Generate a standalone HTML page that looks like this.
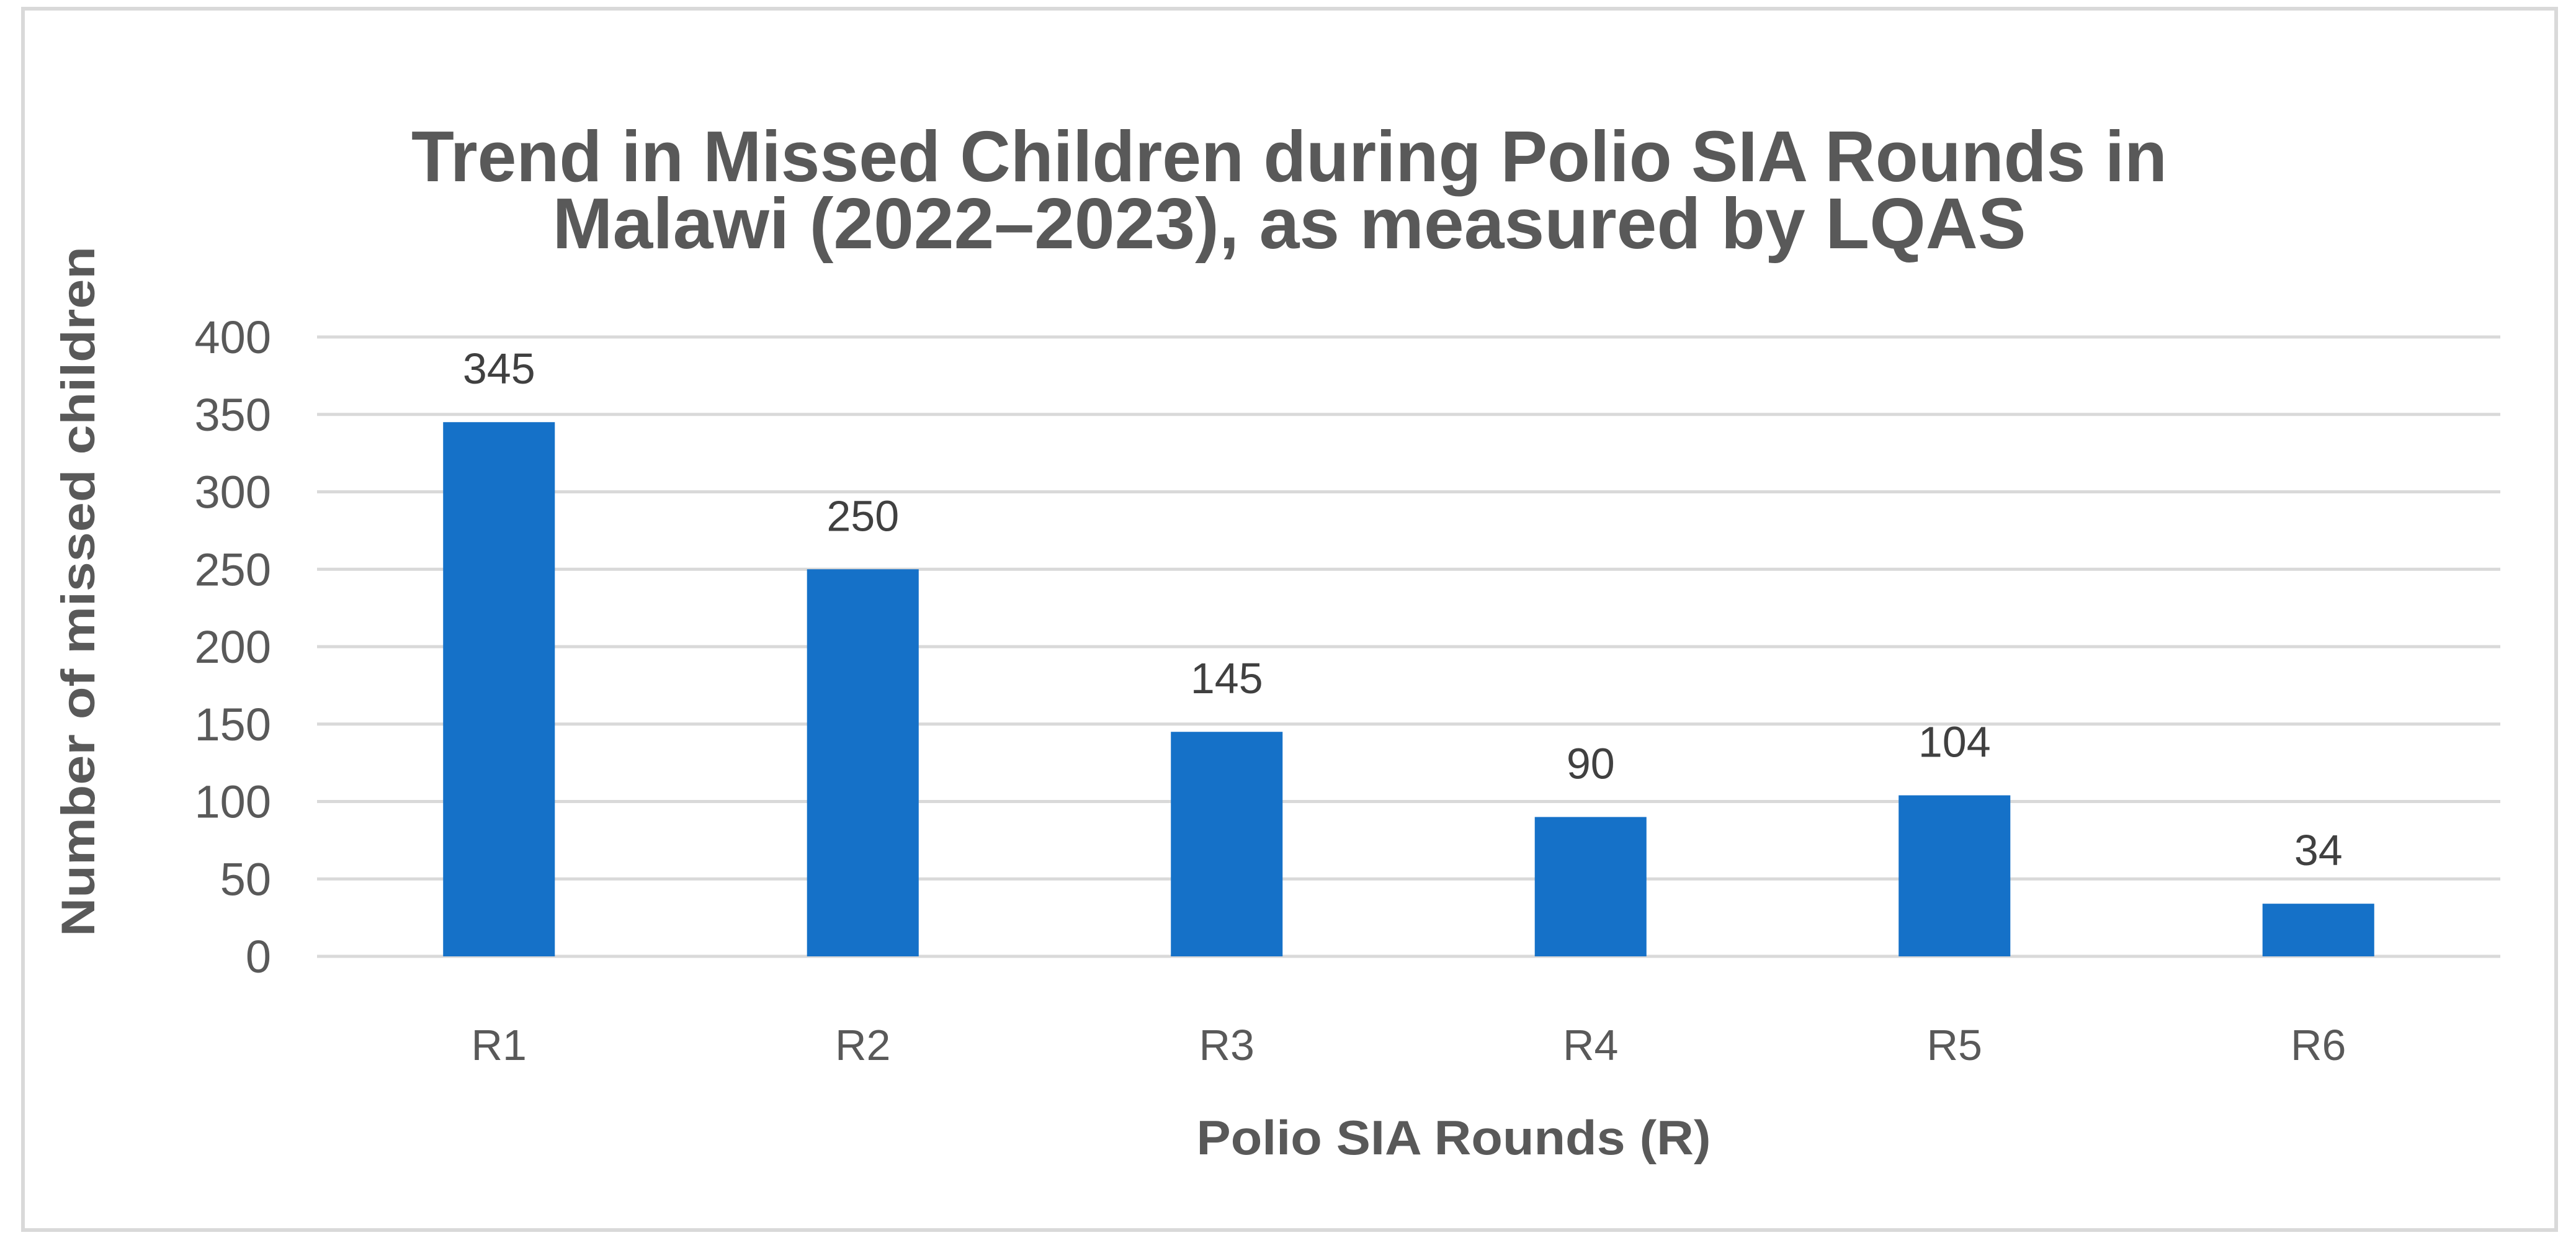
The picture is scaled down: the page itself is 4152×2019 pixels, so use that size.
<!DOCTYPE html>
<html><head><meta charset="utf-8"><style>
html,body{margin:0;padding:0;background:#fff;}
svg{display:block;font-family:"Liberation Sans",sans-serif;}
</style></head><body>
<svg id="chart" width="4152" height="2019" viewBox="0 0 4152 2019">
<rect x="37" y="14" width="4083" height="1968" fill="#fff" stroke="#d9d9d9" stroke-width="6"/>
<g fill="#595959" font-weight="bold" font-size="116" text-anchor="middle">
<text x="2078" y="292" textLength="2830" lengthAdjust="spacingAndGlyphs">Trend in Missed Children during Polio SIA Rounds in</text>
<text x="2078" y="400" textLength="2375" lengthAdjust="spacingAndGlyphs">Malawi (2022–2023), as measured by LQAS</text>
</g>
<g id="grid"></g>
<g id="yticks"></g>
<g id="bars"></g>
<g id="xticks"></g>
<text x="0" y="0" transform="translate(152,953) rotate(-90)" text-anchor="middle" font-size="76" font-weight="bold" fill="#595959" textLength="1112" lengthAdjust="spacingAndGlyphs">Number of missed children</text>
<text x="2343" y="1860" text-anchor="middle" font-size="78" font-weight="bold" fill="#595959" textLength="829" lengthAdjust="spacingAndGlyphs">Polio SIA Rounds (R)</text>
</svg>
<script>
const categories = ["R1","R2","R3","R4","R5","R6"];
const missedChildren = [345,250,145,90,104,34];
const yTicks = [0,50,100,150,200,250,300,350,400];
const NS="http://www.w3.org/2000/svg";
const L=511,R=4030,T=543,B=1541,YMAX=400;
const y=v=>B-(v/YMAX)*(B-T);
const bw=(R-L)/categories.length;
const xc=i=>L+bw*(i+0.5);
const grid=document.getElementById('grid'),yt=document.getElementById('yticks'),bars=document.getElementById('bars'),xt=document.getElementById('xticks');
function mk(tag,attrs){const e=document.createElementNS(NS,tag);for(const k in attrs)e.setAttribute(k,attrs[k]);return e;}
yTicks.forEach(v=>{
  const ln=mk('line',{x1:L,x2:R,y1:y(v),y2:y(v),stroke:'#d9d9d9','stroke-width':5});
  
  
  grid.appendChild(ln);
  const t=mk('text',{x:437,y:y(v)+26,'text-anchor':'end','font-size':74,fill:'#595959'});
  
  
  t.textContent=v;yt.appendChild(t);
});
const barW=bw*0.307;
categories.forEach((c,i)=>{
  const v=missedChildren[i];
  const r=mk('rect',{x:xc(i)-barW/2,y:y(v),width:barW,height:B-y(v),fill:'#1571c8'});
  
  
  bars.appendChild(r);
  const lb=mk('text',{x:xc(i),y:y(v)-62,'text-anchor':'middle','font-size':70,fill:'#404040'});
  
  
  lb.textContent=v;bars.appendChild(lb);
  const xl=mk('text',{x:xc(i),y:1708,'text-anchor':'middle','font-size':70,fill:'#595959'});
  
  
  xl.textContent=c;xt.appendChild(xl);
});
</script>
</body></html>
